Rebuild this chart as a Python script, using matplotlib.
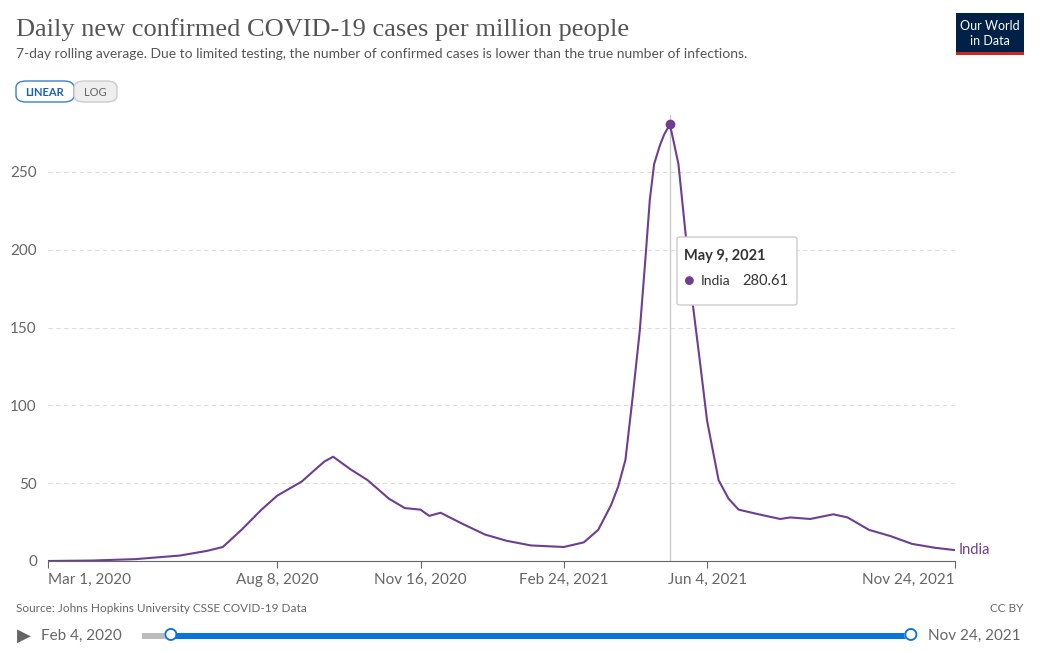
import matplotlib
matplotlib.use("Agg")
import matplotlib.pyplot as plt
from matplotlib.patches import FancyBboxPatch, Rectangle
import pandas as pd

dates = ["2020-03-01","2020-04-01","2020-05-01","2020-06-01","2020-06-20","2020-07-01","2020-07-14","2020-07-28",
         "2020-08-08","2020-08-25","2020-09-05","2020-09-10","2020-09-16","2020-09-22","2020-09-28","2020-10-10","2020-10-25",
         "2020-11-05","2020-11-16","2020-11-22","2020-11-30","2020-12-15","2020-12-31","2021-01-15",
         "2021-02-01","2021-02-24","2021-03-10","2021-03-20","2021-03-29","2021-04-03","2021-04-08","2021-04-13","2021-04-18",
         "2021-04-22","2021-04-25","2021-04-28","2021-05-02","2021-05-05","2021-05-09","2021-05-12","2021-05-15",
         "2021-05-20","2021-05-25","2021-05-30","2021-06-04","2021-06-12","2021-06-19","2021-06-26",
         "2021-07-10","2021-07-25","2021-08-01","2021-08-15","2021-08-31","2021-09-10",
         "2021-09-25","2021-10-10","2021-10-25","2021-11-10","2021-11-24"]
india = [0,0.3,1.2,3.5,6.5,9,20,33,42,51,60,64,67,63,59,52,40,34,33,29,31,24,17,13,10,9,12,20,36,48,65,105,148,
         195,232,255,267,274,280.61,268,255,210,165,128,90,52,40,33,30,27,28,27,30,28,20,16,11,8.5,7]
x_ticks = ["2020-03-01","2020-08-08","2020-11-16","2021-02-24","2021-06-04","2021-11-24"]
x_tick_labels = ["Mar 1, 2020","Aug 8, 2020","Nov 16, 2020","Feb 24, 2021","Jun 4, 2021","Nov 24, 2021"]
y_ticks = [0,50,100,150,200,250]

d = pd.to_datetime(dates)
plt.rcParams['font.family'] = ['Lato', 'DejaVu Sans']
fig = plt.figure(figsize=(10.39, 6.52), dpi=100)
ax = fig.add_axes([48/1039, 1-561/652, 907/1039, (561-115)/652])
col = "#6D3E91"
ax.plot(d, india, color=col, lw=1.5)
pk = d[india.index(max(india))]
ax.axvline(pk, color="#ccc", lw=1, zorder=0)
ax.plot([pk], [max(india)], 'o', color=col, ms=6)
ax.set_xlim(pd.Timestamp("2020-03-01"), pd.Timestamp("2021-11-24"))
ax.set_ylim(0, 286.6)
ax.set_yticks(y_ticks)
ax.set_xticks(pd.to_datetime(x_ticks))
ax.set_xticklabels(x_tick_labels)
ax.tick_params(axis='y', length=0, labelsize=11, colors="#666", pad=8)
ax.tick_params(axis='x', length=5, labelsize=11, colors="#666", color="#666")
xl = ax.get_xticklabels()
xl[0].set_ha('left'); xl[-1].set_ha('right')
ax.grid(axis='y', ls=(0, (4, 3)), color="#ddd")
for s in ["top", "right", "left"]:
    ax.spines[s].set_visible(False)
ax.spines["bottom"].set_color("#666")
ax.text(1.004, india[-1], "India", transform=ax.get_yaxis_transform(), color=col, fontsize=10.5, va='center')

tb = FancyBboxPatch((677/1039, 1-305/652), 120/1039, 68/652, boxstyle="round,pad=0,rounding_size=0.003",
                    transform=fig.transFigure, fc="white", ec="#ccc", lw=1)
fig.patches.append(tb)
fig.text(684/1039, 1-256/652, "May 9, 2021", fontsize=10.5, weight='bold', color="#333", va='center')
fig.text(689/1039, 1-281/652, "●", fontsize=13, color=col, va='center', ha='center')
fig.text(701/1039, 1-281/652, "India", fontsize=10, color="#333", va='center')
fig.text(788/1039, 1-281/652, "280.61", fontsize=10.5, color="#333", va='center', ha='right')

fig.text(16/1039, 1-30/652, "Daily new confirmed COVID-19 cases per million people",
         family=["Liberation Serif", "DejaVu Serif"], fontsize=19, color="#555", va='center')
fig.text(16/1039, 1-54/652, "7-day rolling average. Due to limited testing, the number of confirmed cases is lower than the true number of infections.",
         fontsize=10, color="#555", va='center')
fig.patches.append(FancyBboxPatch((16/1039, 1-102/652), 58/1039, 21/652, boxstyle="round,pad=0,rounding_size=0.01",
                                  transform=fig.transFigure, fc="white", ec="#3b7ed0", lw=1))
fig.patches.append(FancyBboxPatch((74/1039, 1-102/652), 43/1039, 21/652, boxstyle="round,pad=0,rounding_size=0.01",
                                  transform=fig.transFigure, fc="#eee", ec="#ccc", lw=1))
fig.text(45/1039, 1-92/652, "LINEAR", fontsize=8, color="#1d5fb5", ha='center', va='center', weight='bold')
fig.text(95/1039, 1-92/652, "LOG", fontsize=8, color="#666", ha='center', va='center')
fig.patches.append(Rectangle((956/1039, 1-55/652), 68/1039, 42/652, transform=fig.transFigure, fc="#002147"))
fig.patches.append(Rectangle((956/1039, 1-55/652), 68/1039, 3/652, transform=fig.transFigure, fc="#ce261e"))
fig.text(990/1039, 1-26/652, "Our World", fontsize=9, color="white", ha='center', va='center')
fig.text(990/1039, 1-41/652, "in Data", fontsize=9, color="white", ha='center', va='center')
fig.text(16/1039, 1-608/652, "Source: Johns Hopkins University CSSE COVID-19 Data", fontsize=8.5, color="#666", va='center')
fig.text(1023/1039, 1-608/652, "CC BY", fontsize=8.5, color="#666", va='center', ha='right')
fig.text(17/1039, 1-636/652, "▶", fontsize=13, color="#666", va='center')
fig.text(41/1039, 1-636/652, "Feb 4, 2020", fontsize=11, color="#666", va='center')
fig.text(928/1039, 1-636/652, "Nov 24, 2021", fontsize=11, color="#666", va='center')
fig.patches.append(Rectangle((142/1039, 1-639/652), 28/1039, 6/652, transform=fig.transFigure, fc="#bbb"))
fig.patches.append(Rectangle((170/1039, 1-639/652), 740/1039, 6/652, transform=fig.transFigure, fc="#0a75d8"))
for xx in [170, 910]:
    fig.text(xx/1039, 1-635/652, "●", fontsize=17, color="white", ha='center', va='center')
    fig.text(xx/1039, 1-635/652, "○", fontsize=17, color="#0a75d8", ha='center', va='center')
fig.savefig("out.png", dpi=100)
